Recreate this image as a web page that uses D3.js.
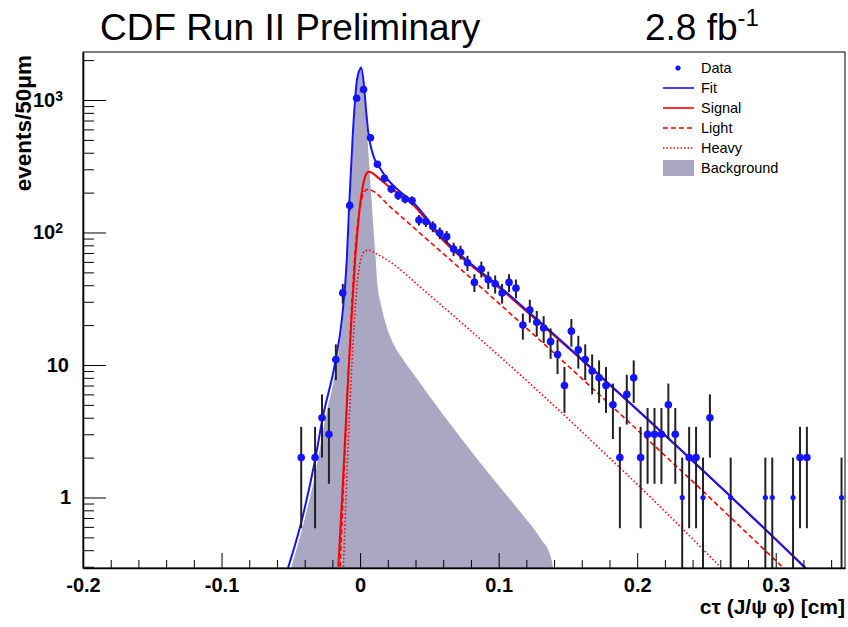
<!DOCTYPE html>
<html>
<head>
<meta charset="utf-8">
<script src="https://cdn.jsdelivr.net/npm/d3@7"></script>
<style>
  body { margin: 0; background: #fff; }
  svg { display: block; }
  text { font-family: "Liberation Sans", Arial, Helvetica, sans-serif; }
</style>
</head>
<body>
<svg id="chart" width="848" height="627"></svg>
<script>
// Proper-time distribution, 50 um bins (bin centres in cm) and event counts
const binCenters = [-0.0425, -0.0325, -0.0275, -0.0225, -0.0175, -0.0125, -0.0075, -0.0025,
  0.0025, 0.0075, 0.0125, 0.0175, 0.0225, 0.0275, 0.0325, 0.0375, 0.0425, 0.0475,
  0.0525, 0.0575, 0.0625, 0.0675, 0.0725, 0.0775, 0.0825, 0.0875, 0.0925, 0.0975,
  0.1025, 0.1075, 0.1125, 0.1175, 0.1225, 0.1275, 0.1325, 0.1375, 0.1425, 0.1475,
  0.1525, 0.1575, 0.1625, 0.1675, 0.1725, 0.1775, 0.1825, 0.1875, 0.1925, 0.1975,
  0.2025, 0.2075, 0.2125, 0.2175, 0.2225, 0.2275, 0.2325, 0.2375, 0.2425, 0.2475,
  0.2525, 0.2675, 0.2925, 0.2975, 0.3125, 0.3175, 0.3225, 0.3475];
const counts = [2, 2, 4, 3, 11, 35, 160, 1030,
  1200, 519, 327, 256, 213, 190, 179, 174, 124, 121,
  111, 99, 93, 75, 71, 59, 42, 53, 44, 41,
  35, 42, 38, 20, 26, 21, 19, 15, 12, 7,
  18, 13, 11, 9, 8, 7, 5, 2, 6, 8,
  2, 3, 3, 3, 5, 3, 1, 2, 2, 1,
  4, 1, 1, 1, 1, 2, 2, 1];

// Total fit
const fitX = [-0.052, -0.0426, -0.0325, -0.0269, -0.018, -0.0132, -0.0096, -0.0079, -0.0051,
  -0.0022, 0.0004, 0.0007, 0.0029, 0.0043, 0.006, 0.0084, 0.0108, 0.0144, 0.0193, 0.0289,
  0.0385, 0.0577, 0.1059, 0.154, 0.178, 0.2021, 0.2286, 0.2694, 0.2935, 0.3217];
const fitY = [0.294, 0.642, 1.92, 4.05, 10.4, 21.8, 62.1, 158, 590,
  1425, 1744, 1760, 1261, 840, 557, 418, 351, 305, 256, 203,
  168, 95.5, 35.1, 12.6, 7.47, 4.40, 2.45, 0.974, 0.562, 0.292];

// Signal component
const signalX = [-0.0157, -0.0123, -0.0087, -0.0058, -0.0036, -0.0018, 0.0, 0.0022, 0.0043,
  0.0061, 0.0087, 0.0123, 0.0217, 0.0383, 0.0577, 0.1059, 0.154, 0.178, 0.2021, 0.2286,
  0.2694, 0.2935, 0.3217];
const signalY = [0.30, 1.36, 7.7, 26, 62, 104, 162, 229, 275,
  288, 282, 263, 218, 162, 92.4, 34.3, 12.4, 7.42, 4.38, 2.44,
  0.972, 0.561, 0.292];

// Light mass eigenstate
const lightX = [-0.0144, -0.0115, -0.0087, -0.0058, -0.0029, 0.0, 0.0029, 0.006, 0.0087,
  0.0217, 0.0457, 0.0698, 0.0818, 0.1059, 0.13, 0.154, 0.1781, 0.1973, 0.2214, 0.2454,
  0.2694, 0.2815, 0.3055];
const lightY = [0.30, 1.6, 7.7, 30.8, 88, 154, 203, 212, 207,
  156, 93.8, 56.2, 43.4, 25.8, 15.3, 9.03, 5.29, 3.45, 2.01, 1.17,
  0.674, 0.511, 0.294];

// Heavy mass eigenstate
const heavyX = [-0.012, -0.0094, -0.0065, -0.0036, -0.0014, 0.0007, 0.0036, 0.0065, 0.0108,
  0.0217, 0.0457, 0.0818, 0.13, 0.154, 0.1732, 0.1973, 0.2214, 0.2454, 0.2598];
const heavyY = [0.30, 1.6, 7.7, 26, 47.5, 64, 72.5, 73.6, 70,
  60, 36.9, 17.4, 6.15, 3.60, 2.32, 1.34, 0.760, 0.427, 0.30];

// Background component
const bkgX = [-0.0498, -0.0411, -0.0318, -0.0253, -0.0173, -0.0126, -0.0094, -0.0072, -0.0043,
  -0.0018, 0.0007, 0.0029, 0.0047, 0.0069, 0.009, 0.0108, 0.0126, 0.0152, 0.0188, 0.0238,
  0.0303, 0.0375, 0.0505, 0.0722, 0.0938, 0.1155, 0.13, 0.1379, 0.1393];
const bkgY = [0.294, 0.62, 1.61, 3.84, 9.5, 21.2, 56.8, 161, 645,
  1425, 1744, 1280, 645, 295, 135, 73.6, 40, 28.3, 20, 14.6,
  11.3, 8.85, 5.73, 2.86, 1.48, 0.78, 0.495, 0.35, 0.294];

const xMajorTicks = [-0.2, -0.1, 0, 0.1, 0.2, 0.3];
const xTickLabels = ["-0.2", "-0.1", "0", "0.1", "0.2", "0.3"];
const xMinorTicks = [-0.18, -0.16, -0.14, -0.12, -0.08, -0.06, -0.04, -0.02, 0.02, 0.04, 0.06, 0.08,
  0.12, 0.14, 0.16, 0.18, 0.22, 0.24, 0.26, 0.28, 0.32, 0.34];
const yMajorTicks = [1, 10, 100, 1000];
const yTickBase = ["1", "10", "10", "10"];
const yTickExp = ["", "", "2", "3"];
const legendLabels = ["Data", "Fit", "Signal", "Light", "Heavy", "Background"];

const plot = { left: 83, right: 845, top: 52, bottom: 568 };
const BLUE = "#1414ff", RED = "#ff0000", BKG = "#a9a7c1";

const svg = d3.select("#chart");
const x = d3.scaleLinear().domain([-0.2, 0.35]).range([plot.left, plot.right]);
const y = d3.scaleLog().domain([0.2936, 2303]).range([plot.bottom, plot.top]);

svg.append("defs").append("clipPath").attr("id", "plotClip")
  .append("rect").attr("x", plot.left).attr("y", plot.top)
  .attr("width", plot.right - plot.left).attr("height", plot.bottom - plot.top);

const g = svg.append("g").attr("clip-path", "url(#plotClip)");

const pts = (xs, ys) => xs.map((v, i) => [v, ys[i]]);

// background fill
const area = d3.area().x(d => x(d[0])).y0(plot.bottom).y1(d => y(d[1])).curve(d3.curveMonotoneX);
g.append("path").datum(pts(bkgX, bkgY)).attr("d", area).attr("fill", BKG);

const line = d3.line().x(d => x(d[0])).y(d => y(d[1])).curve(d3.curveMonotoneX);
g.append("path").datum(pts(heavyX, heavyY)).attr("d", line)
  .attr("fill", "none").attr("stroke", RED).attr("stroke-width", 1.6).attr("stroke-dasharray", "1.5,2.2");
g.append("path").datum(pts(lightX, lightY)).attr("d", line)
  .attr("fill", "none").attr("stroke", RED).attr("stroke-width", 1.6).attr("stroke-dasharray", "5,3");
g.append("path").datum(pts(signalX, signalY)).attr("d", line)
  .attr("fill", "none").attr("stroke", RED).attr("stroke-width", 2);
g.append("path").datum(pts(fitX, fitY)).attr("d", line)
  .attr("fill", "none").attr("stroke", BLUE).attr("stroke-width", 2);

// data points with sqrt(N) error bars
const data = binCenters.map((c, i) => ({ c, n: counts[i] }));
g.selectAll("line.err").data(data).join("line").attr("class", "err")
  .attr("x1", d => x(d.c)).attr("x2", d => x(d.c))
  .attr("y1", d => y(d.n + Math.sqrt(d.n)))
  .attr("y2", d => (d.n - Math.sqrt(d.n)) > 0 ? y(d.n - Math.sqrt(d.n)) : plot.bottom + 5)
  .attr("stroke", "#222").attr("stroke-width", 2);
g.selectAll("line.xerr").data(data).join("line").attr("class", "xerr")
  .attr("x1", d => x(d.c - 0.0025) + 1.5).attr("x2", d => x(d.c + 0.0025) - 1.5)
  .attr("y1", d => y(d.n)).attr("y2", d => y(d.n))
  .attr("stroke", BLUE).attr("stroke-width", 2);
g.selectAll("circle.pt").data(data).join("circle").attr("class", "pt")
  .attr("cx", d => x(d.c)).attr("cy", d => y(d.n)).attr("r", d => d.n > 1 ? 3.8 : 2.6)
  .attr("fill", BLUE);

// frame
svg.append("rect").attr("x", plot.left).attr("y", plot.top)
  .attr("width", plot.right - plot.left).attr("height", plot.bottom - plot.top)
  .attr("fill", "none").attr("stroke", "#000").attr("stroke-width", 1);

// x axis
const xAxis = svg.append("g").attr("transform", `translate(0,${plot.bottom})`)
  .call(d3.axisBottom(x).tickValues(xMajorTicks).tickSizeInner(-15).tickSizeOuter(0)
    .tickPadding(10).tickFormat((d, i) => xTickLabels[i]));
svg.append("g").attr("transform", `translate(0,${plot.bottom})`)
  .call(d3.axisBottom(x).tickValues(xMinorTicks).tickSizeInner(-8).tickSizeOuter(0).tickFormat(""))
  .call(s => s.select(".domain").remove());
xAxis.selectAll("text").attr("font-size", 20).attr("font-weight", "bold").attr("fill", "#000");

// y axis
const yMinor = y.ticks().filter(v => !yMajorTicks.includes(v));
const yAxis = svg.append("g").attr("transform", `translate(${plot.left},0)`)
  .call(d3.axisLeft(y).tickValues(yMajorTicks).tickSizeInner(-23).tickSizeOuter(0)
    .tickPadding(14).tickFormat(""));
svg.append("g").attr("transform", `translate(${plot.left},0)`)
  .call(d3.axisLeft(y).tickValues(yMinor).tickSizeInner(-11).tickSizeOuter(0).tickFormat(""))
  .call(s => s.select(".domain").remove());
yAxis.selectAll(".tick text").each(function (d, i) {
  const t = d3.select(this).attr("font-size", 20).attr("font-weight", "bold").attr("fill", "#000");
  t.text(null);
  t.append("tspan").text(yTickBase[i]);
  if (yTickExp[i]) {
    t.attr("x", -20);
    t.append("tspan").attr("dy", "-0.45em").attr("font-size", 14).text(yTickExp[i]);
  } else if (yTickBase[i] === "1") {
    t.attr("x", -12);
  }
});
svg.selectAll(".domain").attr("stroke-width", 1.6);

// axis titles
svg.append("text").attr("x", plot.right).attr("y", 614).attr("text-anchor", "end")
  .attr("font-size", 21).attr("font-weight", "bold").text("cτ (J/ψ φ) [cm]");
svg.append("text").attr("transform", "translate(31,55) rotate(-90)").attr("text-anchor", "end")
  .attr("font-size", 22.5).attr("font-weight", "bold").text("events/50μm");

// header
svg.append("text").attr("x", 100).attr("y", 40).attr("font-size", 37).text("CDF Run II Preliminary");
const lumi = svg.append("text").attr("x", 645).attr("y", 40).attr("font-size", 37);
lumi.append("tspan").text("2.8 fb");
lumi.append("tspan").attr("dy", -14).attr("font-size", 24).text("-1");

// legend
const legend = svg.append("g");
const rowY = i => 68 + i * 20;
legendLabels.forEach((lab, i) => {
  legend.append("text").attr("x", 701).attr("y", rowY(i) + 5).attr("font-size", 14.5).text(lab);
});
legend.append("circle").attr("cx", 678).attr("cy", rowY(0)).attr("r", 2.6).attr("fill", BLUE);
legend.append("line").attr("x1", 663).attr("x2", 694).attr("y1", rowY(1)).attr("y2", rowY(1))
  .attr("stroke", BLUE).attr("stroke-width", 1.6);
legend.append("line").attr("x1", 663).attr("x2", 694).attr("y1", rowY(2)).attr("y2", rowY(2))
  .attr("stroke", RED).attr("stroke-width", 1.6);
legend.append("line").attr("x1", 663).attr("x2", 694).attr("y1", rowY(3)).attr("y2", rowY(3))
  .attr("stroke", RED).attr("stroke-width", 1.4).attr("stroke-dasharray", "5,3");
legend.append("line").attr("x1", 663).attr("x2", 694).attr("y1", rowY(4)).attr("y2", rowY(4))
  .attr("stroke", RED).attr("stroke-width", 1.4).attr("stroke-dasharray", "1.5,2");
legend.append("rect").attr("x", 663).attr("y", rowY(5) - 8).attr("width", 31).attr("height", 16)
  .attr("fill", BKG);
</script>
</body>
</html>
